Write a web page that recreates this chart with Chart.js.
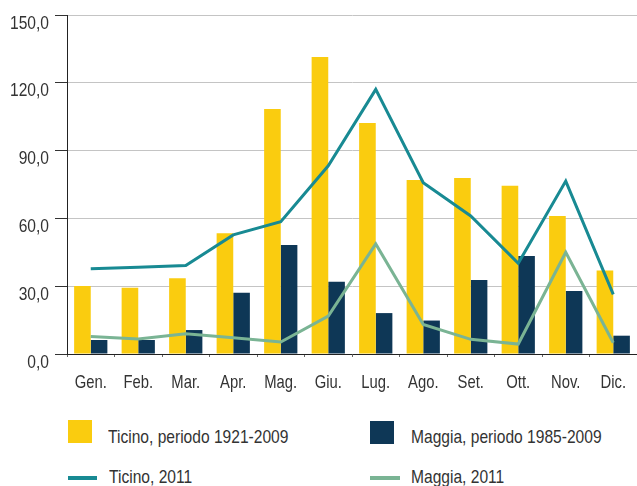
<!DOCTYPE html>
<html>
<head>
<meta charset="utf-8">
<script src="https://cdn.jsdelivr.net/npm/chart.js@4/dist/chart.umd.min.js"></script>
<style>
  html, body { margin: 0; padding: 0; background: #fff; }
  #wrap { position: relative; width: 637px; height: 486px; overflow: hidden; }
  #c { position: absolute; left: 0; top: 0; }
  .lg { position: absolute; font-family: "Liberation Sans", Arial, sans-serif; font-size: 19px; line-height: 19px; color: #333; white-space: nowrap; transform: scaleX(0.82); transform-origin: 0 0; }
  .sw { position: absolute; }
</style>
</head>
<body>
<div id="wrap">
  <canvas id="c" width="637" height="400" style="width:637px;height:400px"></canvas>
</div>
<script>
const months = ["Gen.", "Feb.", "Mar.", "Apr.", "Mag.", "Giu.", "Lug.", "Ago.", "Set.", "Ott.", "Nov.", "Dic."];
const ticinoMean = [30.1, 29.3, 33.5, 53.4, 108.4, 131.4, 102.2, 77.0, 77.9, 74.5, 61.1, 36.9];
const maggiaMean = [6.2, 6.2, 10.6, 27.1, 48.2, 32.0, 18.1, 14.8, 32.7, 43.4, 27.9, 8.1];
const ticino2011 = [37.7, 38.4, 39.2, 52.7, 58.5, 83.3, 117.1, 75.8, 61.1, 40.1, 76.5, 26.4];
const maggia2011 = [7.7, 6.6, 9.0, 7.2, 5.3, 16.8, 48.7, 13.1, 6.5, 4.4, 45.0, 5.0];
const yTicks = [0, 30, 60, 90, 120, 150];
const seriesNames = ["Ticino, periodo 1921-2009", "Maggia, periodo 1985-2009", "Ticino, 2011", "Maggia, 2011"];
const seriesColors = ["#facc0f", "#0e3756", "#188a93", "#7ab494"];

const FONT = "'Liberation Sans', Arial, sans-serif";
const TXT = "#333333";
const fmt = (v) => Number(v).toFixed(1).replace(".", ",");

// Narrow (condensed) tick labels, drawn on the chart canvas from the scales' own ticks
const narrowTicks = {
  id: "narrowTicks",
  afterDraw(chart) {
    const ctx = chart.ctx;
    const xs = chart.scales.x, ys = chart.scales.y;
    ctx.save();
    ctx.fillStyle = TXT;
    ctx.textBaseline = "alphabetic";
    ctx.font = "19px " + FONT;
    ctx.textAlign = "right";
    ys.ticks.forEach((t, i) => {
      const py = ys.getPixelForTick(i);
      ctx.save();
      ctx.translate(ys.right - 18, py + 13.5);
      ctx.scale(0.82, 1);
      ctx.fillText(fmt(t.value), 0, 0);
      ctx.restore();
    });
    ctx.font = "19px " + FONT;
    ctx.textAlign = "center";
    xs.ticks.forEach((t, i) => {
      const px = xs.getPixelForTick(i);
      ctx.save();
      ctx.translate(px, xs.top + 34);
      ctx.scale(0.78, 1);
      ctx.fillText(months[i], 0, 0);
      ctx.restore();
    });
    ctx.restore();
  }
};

new Chart(document.getElementById("c"), {
  type: "bar",
  data: {
    labels: months,
    datasets: [
      { type: "bar", label: seriesNames[0], data: ticinoMean, backgroundColor: seriesColors[0], order: 2,
        categoryPercentage: 0.7, barPercentage: 1.0 },
      { type: "bar", label: seriesNames[1], data: maggiaMean, backgroundColor: seriesColors[1], order: 2,
        categoryPercentage: 0.7, barPercentage: 1.0 },
      { type: "line", label: seriesNames[2], data: ticino2011, borderColor: seriesColors[2], backgroundColor: seriesColors[2],
        borderWidth: 3, pointRadius: 0, tension: 0, order: 0 },
      { type: "line", label: seriesNames[3], data: maggia2011, borderColor: seriesColors[3], backgroundColor: seriesColors[3],
        borderWidth: 3, pointRadius: 0, tension: 0, order: 1 }
    ]
  },
  plugins: [narrowTicks],
  options: {
    responsive: false,
    animation: false,
    events: [],
    layout: { padding: { top: 15, right: 0, bottom: 0, left: 0 } },
    plugins: { legend: { display: false }, tooltip: { enabled: false } },
    scales: {
      x: {
        offset: true,
        grid: { display: true, offset: true, drawOnChartArea: false, tickLength: 3, tickColor: "#666", color: "#666" },
        border: { display: true, color: "#222", width: 1 },
        ticks: { display: false, autoSkip: false },
        afterFit: (s) => { s.height = 46; }
      },
      y: {
        min: 0, max: 150,
        afterBuildTicks: (s) => { s.ticks = yTicks.map(v => ({ value: v })); },
        grid: { color: "#c4c4c4", lineWidth: 1, tickLength: 12, tickColor: "#333", drawTicks: true },
        border: { display: true, color: "#222", width: 1 },
        ticks: { display: false },
        afterFit: (s) => { s.width = 67; }
      }
    }
  }
});

// HTML legend built from the series arrays
const wrap = document.getElementById("wrap");
const legendPos = [
  { x: 68, y: 420, kind: "box", tx: 108, ty: 427 },
  { x: 370, y: 421, kind: "box", tx: 411, ty: 427 },
  { x: 68, y: 476, kind: "line", tx: 109, ty: 467 },
  { x: 370, y: 476, kind: "line", tx: 411, ty: 467 }
];
seriesNames.forEach((name, i) => {
  const p = legendPos[i];
  const sw = document.createElement("div");
  sw.className = "sw";
  sw.style.left = p.x + "px";
  sw.style.top = p.y + "px";
  sw.style.background = seriesColors[i];
  if (p.kind === "box") { sw.style.width = "24px"; sw.style.height = "23px"; }
  else { sw.style.width = (i === 2 ? 29 : 30) + "px"; sw.style.height = "4px"; }
  wrap.appendChild(sw);
  const t = document.createElement("div");
  t.className = "lg";
  t.style.left = p.tx + "px";
  t.style.top = p.ty + "px";
  t.textContent = name;
  wrap.appendChild(t);
});
</script>
</body>
</html>
